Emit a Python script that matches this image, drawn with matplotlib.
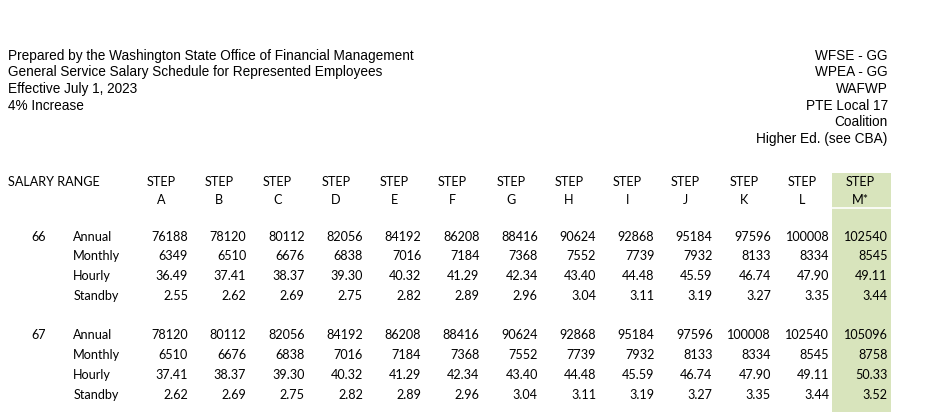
import matplotlib
matplotlib.use("Agg")
import matplotlib.pyplot as plt
import matplotlib.patches as patches

header_left = [
    "Prepared by the Washington State Office of Financial Management",
    "General Service Salary Schedule for Represented Employees",
    "Effective July 1, 2023",
    "4% Increase",
]
header_right = ["WFSE - GG", "WPEA - GG", "WAFWP", "PTE Local 17", "Coalition", "Higher Ed. (see CBA)"]

steps = ["A", "B", "C", "D", "E", "F", "G", "H", "I", "J", "K", "L", "M*"]
row_labels = ["Annual", "Monthly", "Hourly", "Standby"]
ranges = ["66", "67"]

annual_66 = [76188, 78120, 80112, 82056, 84192, 86208, 88416, 90624, 92868, 95184, 97596, 100008, 102540]
monthly_66 = [6349, 6510, 6676, 6838, 7016, 7184, 7368, 7552, 7739, 7932, 8133, 8334, 8545]
hourly_66 = [36.49, 37.41, 38.37, 39.30, 40.32, 41.29, 42.34, 43.40, 44.48, 45.59, 46.74, 47.90, 49.11]
standby_66 = [2.55, 2.62, 2.69, 2.75, 2.82, 2.89, 2.96, 3.04, 3.11, 3.19, 3.27, 3.35, 3.44]

annual_67 = [78120, 80112, 82056, 84192, 86208, 88416, 90624, 92868, 95184, 97596, 100008, 102540, 105096]
monthly_67 = [6510, 6676, 6838, 7016, 7184, 7368, 7552, 7739, 7932, 8133, 8334, 8545, 8758]
hourly_67 = [37.41, 38.37, 39.30, 40.32, 41.29, 42.34, 43.40, 44.48, 45.59, 46.74, 47.90, 49.11, 50.33]
standby_67 = [2.62, 2.69, 2.75, 2.82, 2.89, 2.96, 3.04, 3.11, 3.19, 3.27, 3.35, 3.44, 3.52]

blocks = [
    [annual_66, monthly_66, hourly_66, standby_66],
    [annual_67, monthly_67, hourly_67, standby_67],
]

# --- layout (pixel space)
W, H = 935, 412
col_right0 = 188.0
col_step = 58.3
row_h = 19.75
block_top = [236.7, 335.4]

green = "#D8E4BC"
arial = "Liberation Sans"
txt = "black"

# spreadsheet cell style (Calibri look-alike)
cell = dict(fontsize=9.1, family="Lato", color=txt, va="center")

fig = plt.figure(figsize=(W / 100, H / 100), dpi=100)
ax = fig.add_axes([0, 0, 1, 1])
ax.set_xlim(0, W)
ax.set_ylim(H, 0)
ax.axis("off")

# highlighted last step column
last_right = col_right0 + col_step * (len(steps) - 1)
ax.add_patch(patches.Rectangle((last_right - 55.7, 172.7), 58.7, H - 172.7,
                               facecolor=green, edgecolor="none", zorder=0))
ax.plot([last_right - 55.7, last_right + 3], [208.3, 208.3], color="white", lw=1.2, zorder=1)

# top headers
for i, s in enumerate(header_left):
    ax.text(8.5, 55.5 + i * 16.7, s, ha="left", va="center", fontsize=9.8, family=arial, color=txt)
for i, s in enumerate(header_right):
    ax.text(887.7, 55.5 + i * 16.7, s, ha="right", va="center", fontsize=9.8, family=arial, color=txt)

# column headers
ax.text(8, 181.5, "SALARY RANGE", ha="left", **cell)
for i, s in enumerate(steps):
    cx = col_right0 + col_step * i - 27
    ax.text(cx, 181.5, "STEP", ha="center", **cell)
    ax.text(cx, 199.5, s, ha="center", **cell)

# body
for b, rng in enumerate(ranges):
    y0 = block_top[b]
    ax.text(38.5, y0, rng, ha="center", **cell)
    for r, lab in enumerate(row_labels):
        y = y0 + r * row_h
        ax.text(73.3, y, lab, ha="left", **cell)
        vals = blocks[b][r]
        for i, v in enumerate(vals):
            s = f"{v:.0f}" if r < 2 else f"{v:.2f}"
            ax.text(col_right0 + col_step * i, y, s, ha="right", **cell)

plt.savefig("out.png", dpi=100, facecolor="white")
